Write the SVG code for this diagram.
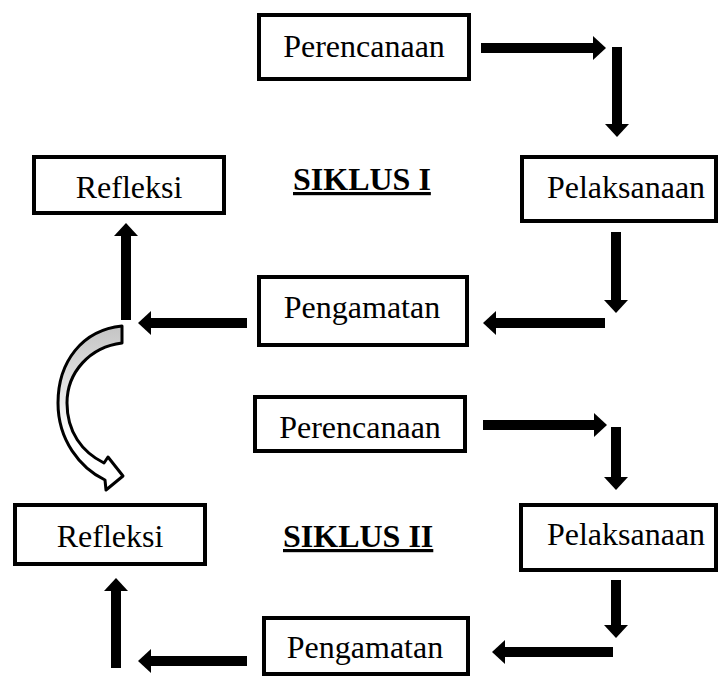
<svg xmlns="http://www.w3.org/2000/svg" width="721" height="680" viewBox="0 0 721 680">
<style>
.box{fill:#fff;stroke:#000;stroke-width:4}
.lbl{font-family:"Liberation Serif","Times New Roman",serif;font-size:32px;fill:#000;text-anchor:middle}
.title{font-family:"Liberation Serif","Times New Roman",serif;font-size:32px;font-weight:bold;fill:#000;text-decoration:underline}
.arr{stroke:#000;stroke-width:10;fill:none;marker-end:url(#ah)}
</style>
<defs>
<marker id="ah" markerUnits="userSpaceOnUse" markerWidth="14" markerHeight="26" refX="0" refY="12" orient="auto">
<path d="M0,0 L13,12 L0,24 Z" fill="#000"/>
</marker>
<linearGradient id="cg" x1="0" y1="326" x2="0" y2="440" gradientUnits="userSpaceOnUse">
<stop offset="0" stop-color="#c4c4c4"/>
<stop offset="1" stop-color="#ffffff"/>
</linearGradient>
</defs>
<rect width="721" height="680" fill="#fff"/>

<g id="perencanaan1"><rect class="box" x="259" y="15" width="210" height="64"/><text class="lbl" x="364" y="57">Perencanaan</text></g>
<g id="pelaksanaan1"><rect class="box" x="522" y="157" width="194" height="64"/><text class="lbl" x="626" y="198">Pelaksanaan</text></g>
<g id="pengamatan1"><rect class="box" x="259" y="277" width="208" height="68"/><text class="lbl" x="362" y="318">Pengamatan</text></g>
<g id="refleksi1"><rect class="box" x="34" y="157" width="190" height="56"/><text class="lbl" x="129" y="198">Refleksi</text></g>
<g id="siklus1"><text class="title" x="293" y="190">SIKLUS I</text></g>

<g id="perencanaan2"><rect class="box" x="255" y="397" width="210" height="54"/><text class="lbl" x="360" y="438">Perencanaan</text></g>
<g id="pelaksanaan2"><rect class="box" x="521" y="505" width="195" height="65"/><text class="lbl" x="626" y="545">Pelaksanaan</text></g>
<g id="pengamatan2"><rect class="box" x="264" y="618" width="204" height="56"/><text class="lbl" x="365" y="658">Pengamatan</text></g>
<g id="refleksi2"><rect class="box" x="15" y="505" width="190" height="59"/><text class="lbl" x="110" y="547">Refleksi</text></g>
<g id="siklus2"><text class="title" x="283" y="547">SIKLUS II</text></g>

<g id="connectors">
<line class="arr" x1="481" y1="48" x2="593" y2="48"/>
<line class="arr" x1="617" y1="47" x2="617" y2="124"/>
<line class="arr" x1="616" y1="232" x2="616" y2="300"/>
<line class="arr" x1="605" y1="323" x2="496" y2="323"/>
<line class="arr" x1="247" y1="323" x2="151" y2="323"/>
<line class="arr" x1="126" y1="320" x2="126" y2="236"/>
<path d="M122,326 C82,330 58,362 58,403 C58,440 80,468 105,480 L106,490 L123,476 L108,457 L104,463 C82,452 67,432 67,403 C67,372 90,347 122,343 Z" fill="url(#cg)" stroke="#000" stroke-width="3" stroke-linejoin="round"/>
<line class="arr" x1="483" y1="425" x2="594" y2="425"/>
<line class="arr" x1="616" y1="427" x2="616" y2="477"/>
<line class="arr" x1="616" y1="580" x2="616" y2="625"/>
<line class="arr" x1="613" y1="652" x2="505" y2="652"/>
<line class="arr" x1="247" y1="661" x2="151" y2="661"/>
<line class="arr" x1="116" y1="668" x2="116" y2="591"/>
</g>
</svg>
